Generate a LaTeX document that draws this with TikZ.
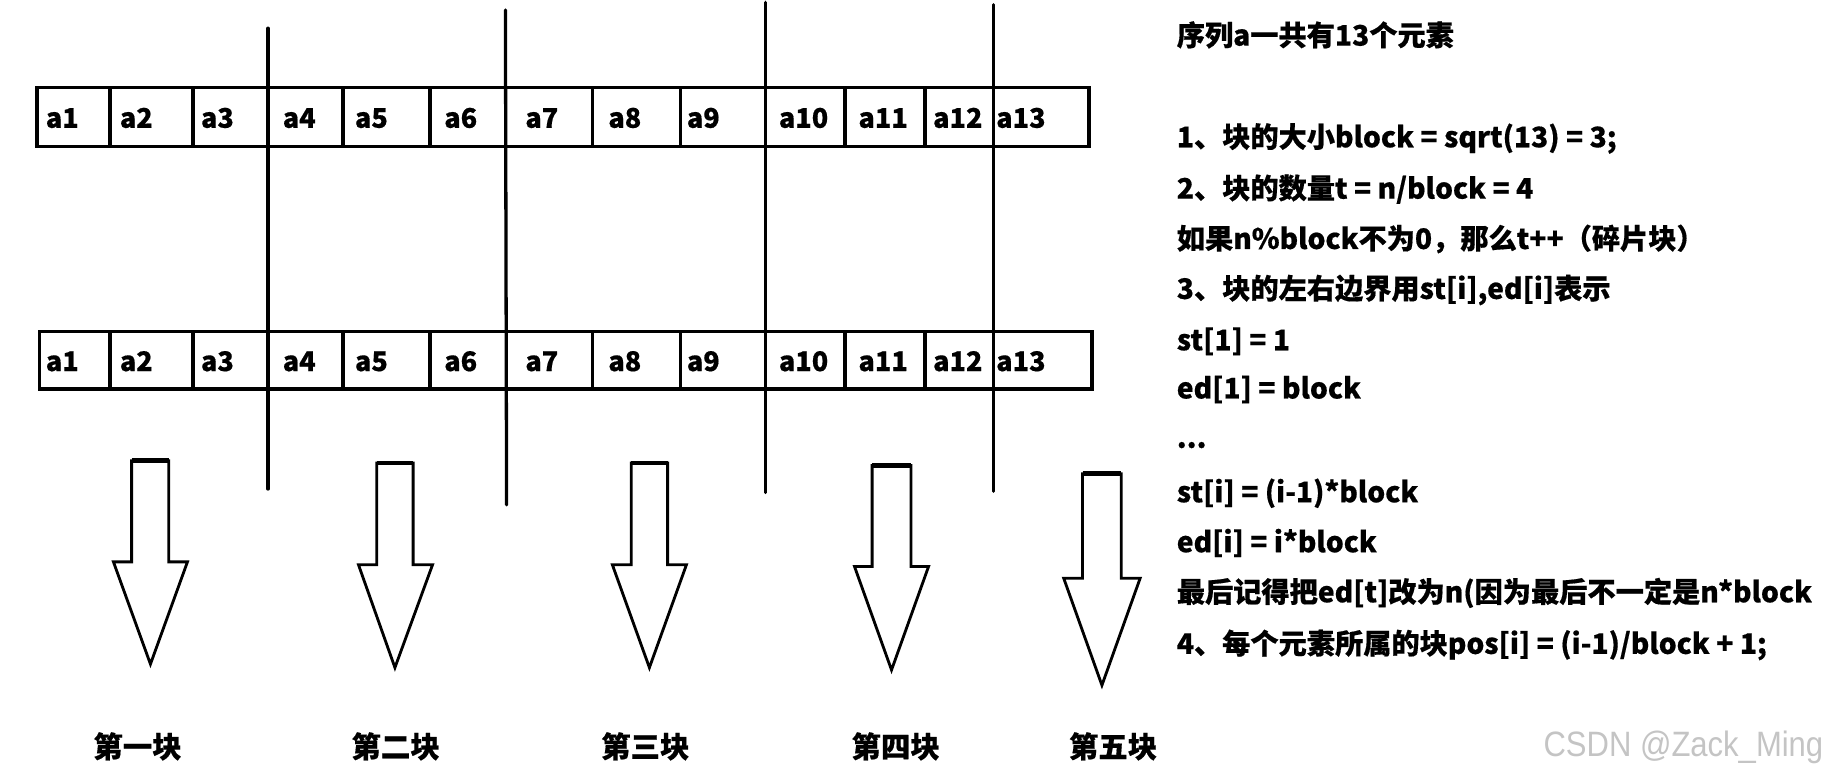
\documentclass[tikz,border=0pt]{standalone}
\usepackage{fontspec}
\newfontfamily\cjk{Noto Sans CJK SC}[BoldFeatures={FakeBold=0.5}]
\newfontfamily\wmfont{Liberation Sans}
\definecolor{wmgray}{RGB}{196,196,196}
\tikzset{
  boxline/.style={line width=3pt},
  divline/.style={line width=3pt},
  sepline/.style={line width=2.8pt, line cap=round},
  arrowshape/.style={draw, line width=2.4pt, line join=miter, fill=white},
  arrowtop/.style={line width=4pt},
  cell/.style={font=\cjk\bfseries\fontsize{23}{26}\selectfont, inner sep=0pt, anchor=base},
  note/.style={font=\cjk\bfseries\fontsize{24}{28}\selectfont, inner sep=0pt, anchor=west, text height=21pt, text depth=3pt},
  blocklabel/.style={font=\cjk\bfseries\fontsize{25}{28}\selectfont, inner sep=0pt},
  watermark/.style={font=\wmfont\fontsize{30}{32}\selectfont, text=wmgray, inner sep=0pt, anchor=west, xscale=0.88}
}
\begin{document}
\begin{tikzpicture}[x=1pt,y=-1pt]
\useasboundingbox (0,0) rectangle (1568,664);
% long separators
\draw[sepline] (228,24) -- (228,416);
\draw[sepline] (430,8.5) -- (431,429.5);
\draw[sepline] (651,2) -- (651,419);
\draw[sepline] (845,4) -- (845,418);
% rows
\draw[boxline] (31.5,74.5) rectangle (926.5,124.8);
\draw[boxline] (33.6,282) rectangle (929,331);
\foreach \x in {93.5,164,292,366,504,579,719,787}{
  \draw[divline] (\x,74.5) -- (\x,124.8);
  \draw[divline] (\x,282) -- (\x,331);
}
% labels
\foreach \x [count=\i] in {53,116,185,254.6,316,392,461,531.6,598.4,683.7,751.4,814.9,868.6}{
  \node[cell] (t\i) at (\x,108.7) {a\i};
  \node[cell] (b\i) at (\x,315.7) {a\i};
}
% arrows
\foreach \sa/\sb/\top/\sh/\ha/\hb/\tip/\xc [count=\i] in {
  112/143.5/392/478/96.5/159.5/565/128,
  320.5/351.5/394/480.5/305/368/568/336,
  537/568/394/480.5/521/584/568/552.5,
  742/775/396/482/727/790/570/758.5,
  921/954/403/492/905/970/583/937.5}{
  \draw[arrowshape] (\sa,\top) -- (\sb,\top) -- (\sb,\sh) -- (\hb,\sh) -- (\xc,\tip) -- (\ha,\sh) -- (\sa,\sh) -- cycle;
  \draw[arrowtop] (\sa,\top) -- (\sb,\top);
}
% block labels
\node[blocklabel] (k1) at (117,635) {第一块};
\node[blocklabel] (k2) at (336.6,635) {第二块};
\node[blocklabel] (k3) at (549,635) {第三块};
\node[blocklabel] (k4) at (762,635) {第四块};
\node[blocklabel] (k5) at (947,635) {第五块};
% notes
\node[note] (n1) at (1001,29.8) {序列a一共有13个元素};
\node[note] (n2) at (1001,116.3) {1、块的大小block = sqrt(13) = 3;};
\node[note] (n3) at (1001,160) {2、块的数量t = n/block = 4};
\node[note] (n4) at (1001,202.8) {如果n\%block不为0，那么t++（碎片块）};
\node[note] (n5) at (1001,245.3) {3、块的左右边界用st[i],ed[i]表示};
\node[note] (n6) at (1001,289) {st[1] = 1};
\node[note] (n7) at (1001,330) {ed[1] = block};
\node[note] (n8) at (1001,372) {...};
\node[note] (n9) at (1001,418.3) {st[i] = (i-1)*block};
\node[note] (n10) at (1001,460.8) {ed[i] = i*block};
\node[note] (n11) at (1001,503.4) {最后记得把ed[t]改为n(因为最后不一定是n*block};
\node[note] (n12) at (1001,547.3) {4、每个元素所属的块pos[i] = (i-1)/block + 1;};
\node[watermark] (wm) at (1313,636) {CSDN @Zack\_Ming};
\end{tikzpicture}
\end{document}
